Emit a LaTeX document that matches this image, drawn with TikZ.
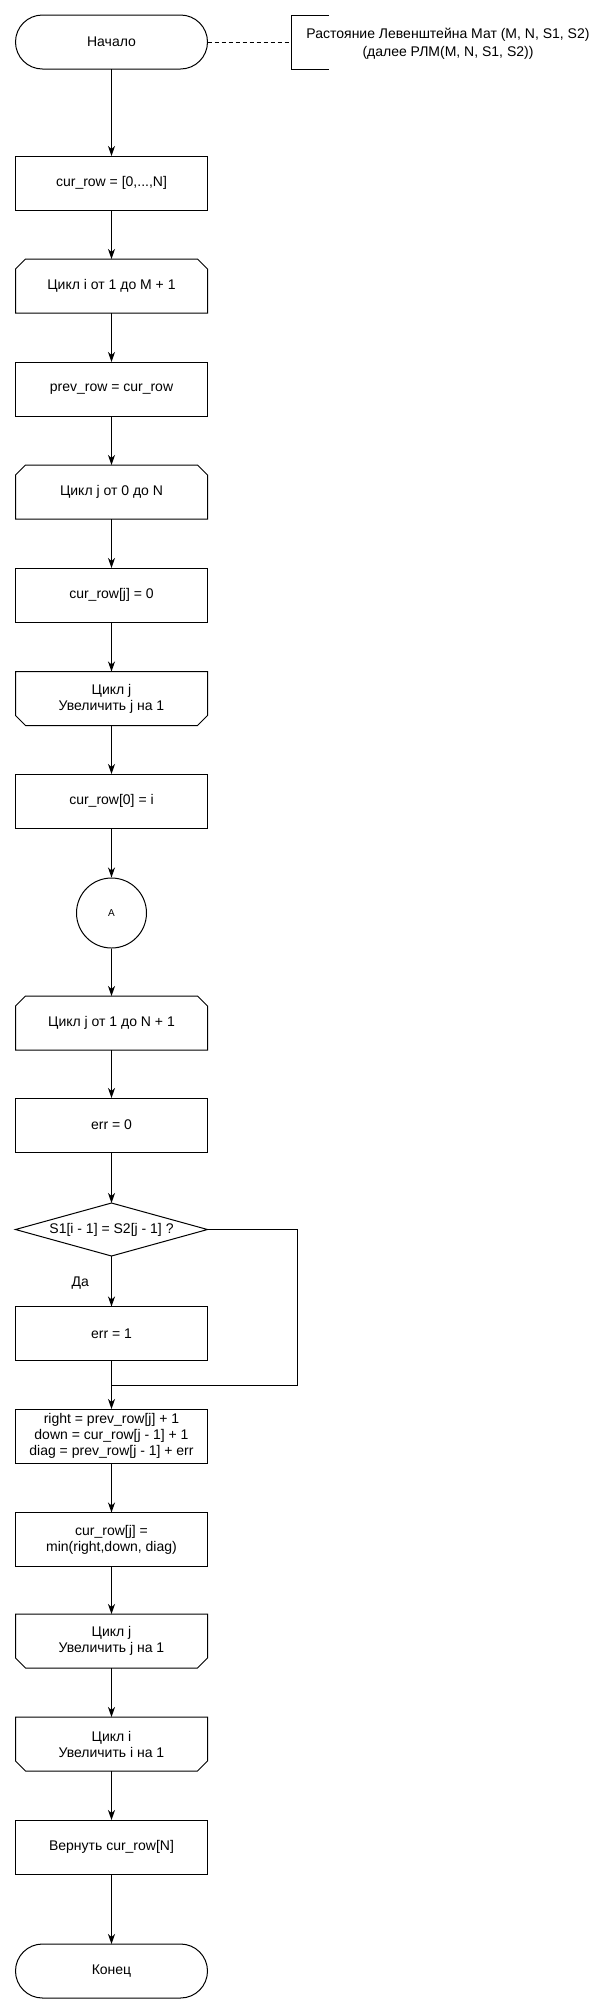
\documentclass[tikz,border=0pt]{standalone}
\usepackage{fontspec}
\setmainfont{Liberation Sans}
\usetikzlibrary{arrows.meta,shapes.geometric}
\tikzset{
  base/.style={inner sep=0pt, outer sep=0pt, minimum width=192pt, minimum height=54pt, align=center, font=\fontsize{14pt}{16pt}\selectfont},
  proc/.style={base, draw, rectangle},
  term/.style={base, draw, rectangle, rounded corners=27pt},
  loopbox/.style={base, rectangle},
  dec/.style={base, draw, diamond, aspect=3.6, minimum width=192pt, minimum height=53pt},
  conn/.style={draw, circle, minimum size=70pt, inner sep=0pt, font=\fontsize{10pt}{12pt}\selectfont},
  flow/.style={line width=1pt, -{Stealth[length=10pt,width=7pt,inset=3pt]}},
  plain/.style={line width=1pt},
  shapeline/.style={line width=1pt}
}
\newcommand{\lpbeg}[1]{\draw[shapeline] (#1.south west) -- ([yshift=-10pt]#1.north west) -- ([xshift=10pt]#1.north west) -- ([xshift=-10pt]#1.north east) -- ([yshift=-10pt]#1.north east) -- (#1.south east) -- cycle;}
\newcommand{\lpend}[1]{\draw[shapeline] (#1.north west) -- ([yshift=10pt]#1.south west) -- ([xshift=10pt]#1.south west) -- ([xshift=-10pt]#1.south east) -- ([yshift=10pt]#1.south east) -- (#1.north east) -- cycle;}
\begin{document}
\begin{tikzpicture}[x=1pt,y=-1pt]
\useasboundingbox (0,0) rectangle (614,2014);
\fill[white] (0,0) rectangle (614,2014);
\tikzset{every node/.append style={line width=1pt}}
\node[term] (start) at (111.5,42) {Начало};
\node[proc] (init) at (111.5,183) {cur\_row = [0,...,N]};
\node[loopbox] (loopi) at (111.5,286) {Цикл i от 1 до M + 1};
\node[proc] (prev) at (111.5,389) {prev\_row = cur\_row};
\node[loopbox] (loopja) at (111.5,492) {Цикл j от 0 до N};
\node[proc] (setj) at (111.5,595) {cur\_row[j] = 0};
\node[loopbox] (endja) at (111.5,698.5) {Цикл j\\Увеличить j на 1};
\node[proc] (cur0) at (111.5,801) {cur\_row[0] = i};
\node[conn] (A) at (111.5,913) {A};
\node[loopbox] (loopjb) at (111.5,1023) {Цикл j от 1 до N + 1};
\node[proc] (err0) at (111.5,1125) {err = 0};
\node[dec] (dia) at (111.5,1229.5) {S1[i - 1] = S2[j - 1] ?};
\node[proc] (err1) at (111.5,1333.5) {err = 1};
\node[proc] (calc) at (111.5,1436) {right = prev\_row[j] + 1\\down = cur\_row[j - 1] + 1\\diag = prev\_row[j - 1] + err};
\node[proc] (minb) at (111.5,1539.5) {cur\_row[j] =\\min(right,down, diag)};
\node[loopbox] (endjb) at (111.5,1641) {Цикл j\\Увеличить j на 1};
\node[loopbox] (endi) at (111.5,1744) {Цикл i\\Увеличить i на 1};
\node[proc] (ret) at (111.5,1847) {Вернуть cur\_row[N]};
\node[term] (stop) at (111.5,1971) {Конец};
\lpbeg{loopi}
\lpbeg{loopja}
\lpbeg{loopjb}
\lpend{endja}
\lpend{endjb}
\lpend{endi}
% annotation
\coordinate (brk) at (291,42);
\draw[shapeline] (329,15) -- (291,15) -- (291,69) -- (329,69);
\node[align=center, font=\fontsize{14pt}{18pt}\selectfont, inner sep=0pt] (note) at (448,44) {Растояние Левенштейна Мат (M, N, S1, S2)\\(далее РЛМ(M, N, S1, S2))};
\draw[plain, dash pattern=on 4pt off 3pt] (start.east) -- (brk);
% flow
\draw[flow] (start) -- (init);
\draw[flow] (init) -- (loopi);
\draw[flow] (loopi) -- (prev);
\draw[flow] (prev) -- (loopja);
\draw[flow] (loopja) -- (setj);
\draw[flow] (setj) -- (endja);
\draw[flow] (endja) -- (cur0);
\draw[flow] (cur0) -- (A);
\draw[flow] (A) -- (loopjb);
\draw[flow] (loopjb) -- (err0);
\draw[flow] (err0) -- (dia);
\draw[flow] (dia) -- node[pos=0.54, left=22pt, font=\fontsize{14pt}{16pt}\selectfont, inner sep=0pt] {Да} (err1);
\coordinate (rt) at (297,1385);
\coordinate (merge) at (111.5,1385);
\draw[plain] (dia.east) -| (rt) -- (merge);
\draw[flow] (err1) -- (calc);
\draw[flow] (calc) -- (minb);
\draw[flow] (minb) -- (endjb);
\draw[flow] (endjb) -- (endi);
\draw[flow] (endi) -- (ret);
\draw[flow] (ret) -- (stop);
\end{tikzpicture}
\end{document}
